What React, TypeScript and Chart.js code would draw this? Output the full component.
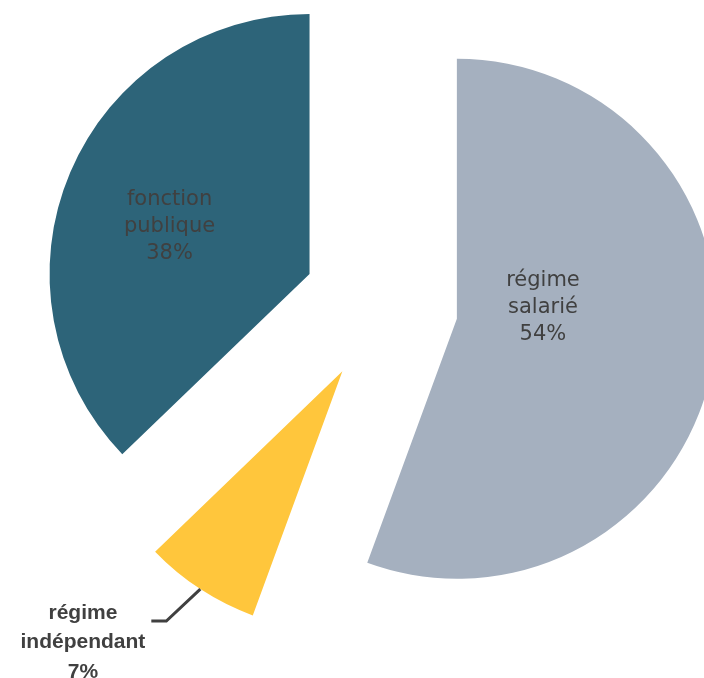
import React, { useEffect, useRef } from 'react';
import { Chart, registerables } from 'chart.js';

Chart.register(...registerables);

// ---- data ----
const categories = ['régime salarié', 'régime indépendant', 'fonction publique'];
const shares = [55.6, 7.2, 37.2];
const percentLabels = ['54%', '7%', '38%'];
const labelLines = [['régime', 'salarié'], ['régime', 'indépendant'], ['fonction', 'publique']];

// ---- style ----
const colors = ['#A5B0BF', '#FFC63C', '#2D6479'];
const explode = [73, 78, 82];
// inside label placement: [radius factor, angle offset in degrees]
const insideLabel: Record<number, [number, number]> = { 0: [0.334, -17.7], 2: [0.568, -4.45] };
const outsideIndex = 1;
const leaderDiag = [-34, 32];
const leaderHoriz = 15;

const TEXT = '#404040';

function shift(el: any, i: number) {
  const mid = (el.startAngle + el.endAngle) / 2;
  return { dx: Math.cos(mid) * explode[i], dy: Math.sin(mid) * explode[i], mid };
}

const explodePlugin = {
  id: 'explodeSlices',
  beforeDatasetDraw(chart: any, args: any) {
    args.meta.data.forEach((el: any, i: number) => {
      const { dx, dy } = shift(el, i);
      el._bx = el.x;
      el._by = el.y;
      el.x = el.x + dx;
      el.y = el.y + dy;
    });
  },
  afterDatasetDraw(chart: any, args: any) {
    args.meta.data.forEach((el: any) => {
      el.x = el._bx;
      el.y = el._by;
    });
  },
  afterDatasetsDraw(chart: any) {
    const ctx = chart.ctx;
    const meta = chart.getDatasetMeta(0);
    meta.data.forEach((el: any, i: number) => {
      const { dx, dy, mid } = shift(el, i);
      const vx = el.x + dx;
      const vy = el.y + dy;
      const R = el.outerRadius;
      const lines = [...labelLines[i], percentLabels[i]];
      ctx.save();
      ctx.fillStyle = TEXT;
      ctx.textAlign = 'center';
      if (i !== outsideIndex) {
        const [f, off] = insideLabel[i];
        const a = mid + (off * Math.PI) / 180;
        const cx = vx + Math.cos(a) * R * f;
        const cy = vy + Math.sin(a) * R * f;
        ctx.font = '21px "DejaVu Sans"';
        ctx.textBaseline = 'middle';
        const lh = 27;
        lines.forEach((t, k) => ctx.fillText(t, cx, cy + (k - 1) * lh));
      } else {
        const p0x = vx + Math.cos(mid) * R;
        const p0y = vy + Math.sin(mid) * R;
        const p1x = p0x + leaderDiag[0];
        const p1y = p0y + leaderDiag[1];
        const p2x = p1x - leaderHoriz;
        const p2y = p1y;
        ctx.strokeStyle = '#404040';
        ctx.lineWidth = 3;
        ctx.beginPath();
        ctx.moveTo(p0x, p0y);
        ctx.lineTo(p1x, p1y);
        ctx.lineTo(p2x, p2y);
        ctx.stroke();
        ctx.font = 'bold 21px "Liberation Sans"';
        ctx.textBaseline = 'alphabetic';
        const w = Math.max(...lines.map((t) => ctx.measureText(t).width));
        const cx = p2x - 6 - w / 2;
        const lh = 29.5;
        lines.forEach((t, k) => ctx.fillText(t, cx, p2y - 2.3 + k * lh));
      }
      ctx.restore();
    });
  },
};

export default function App() {
  const ref = useRef<HTMLCanvasElement>(null);
  useEffect(() => {
    if (!ref.current) return;
    const chart = new Chart(ref.current, {
      type: 'pie',
      data: {
        labels: categories,
        datasets: [
          {
            data: shares,
            backgroundColor: colors,
            borderWidth: 0,
          },
        ],
      },
      options: {
        animation: false,
        responsive: false,
        events: [],
        radius: 260,
        layout: { padding: { left: 66, right: 0, top: 0, bottom: 66 } },
        plugins: {
          legend: { display: false },
          tooltip: { enabled: false },
        },
      } as any,
      plugins: [explodePlugin],
    });
    return () => chart.destroy();
  }, []);
  return (
    <div style={{ position: 'fixed', left: 0, top: 0, width: 704, height: 678, background: '#fff' }}>
      <canvas ref={ref} width={704} height={678} style={{ display: 'block' }} />
    </div>
  );
}
